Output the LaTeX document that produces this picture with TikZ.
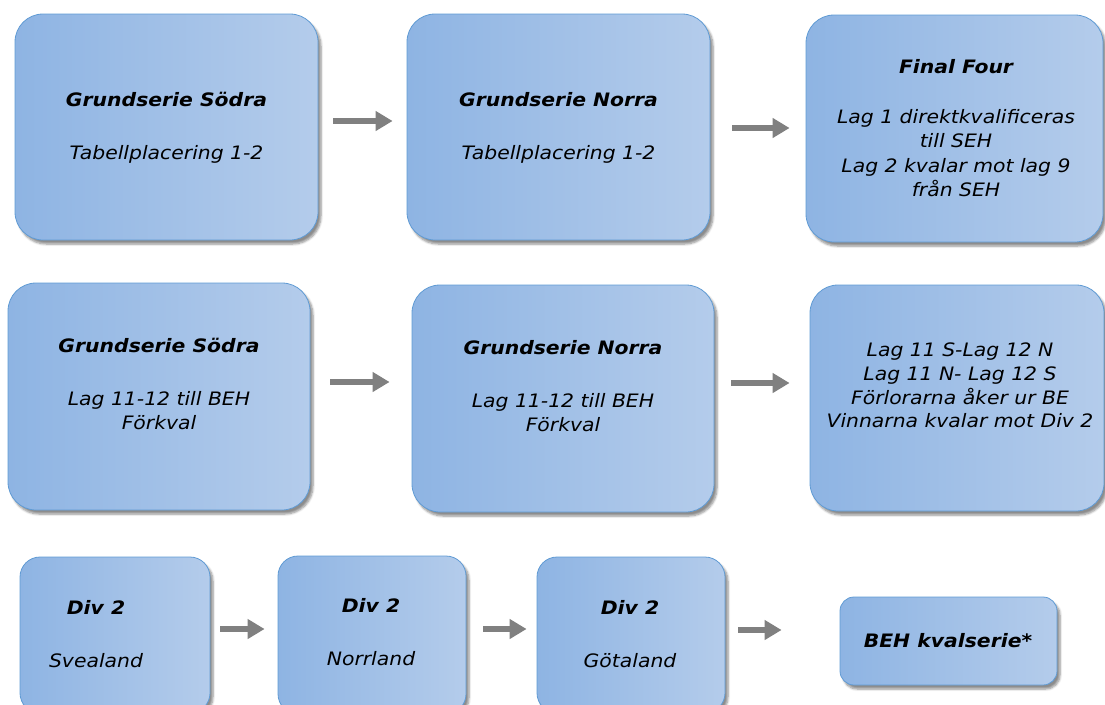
\documentclass[tikz,border=0pt]{standalone}
\usepackage{fontspec}
\setmainfont[FakeStretch=1.1]{DejaVu Sans}
\usetikzlibrary{arrows.meta,calc,shadows.blur}
\definecolor{boxL}{RGB}{142,180,227}
\definecolor{boxR}{RGB}{180,204,235}
\definecolor{boxB}{RGB}{96,155,212}
\definecolor{arrG}{RGB}{128,128,128}
\tikzset{
  box/.style={draw=boxB, line width=0.8pt, left color=boxL, right color=boxR,
    rounded corners=28pt, inner sep=0pt,
    blur shadow={shadow xshift=3pt, shadow yshift=-4pt, shadow blur steps=6, shadow opacity=45}},
  txt/.style={align=center, font=\fontsize{18.5}{24.5}\selectfont\itshape, inner sep=0pt},
  arr/.style={draw=arrG, line width=6pt, -{Triangle[length=17pt,width=19pt]}},
}
\newcommand{\ttl}[1]{{\bfseries #1}}
\begin{document}
\begin{tikzpicture}[x=1pt,y=1pt]
\useasboundingbox (0,0) rectangle (1105,-704);
\clip (0,0) rectangle (1105,-704);
% row 1
\node[box, minimum width=303pt, minimum height=226pt] (a1) at (166.5,-127) {};
\node[box, minimum width=303pt, minimum height=226pt] (a2) at (558.5,-127) {};
\node[box, minimum width=297pt, minimum height=227pt] (a3) at (954.5,-128.5) {};
% row 2
\node[box, minimum width=302pt, minimum height=227pt] (b1) at (159,-396.5) {};
\node[box, minimum width=302pt, minimum height=227pt] (b2) at (563,-398.5) {};
\node[box, minimum width=294pt, minimum height=226pt] (b3) at (957,-398) {};
% row 3
\node[box, rounded corners=20pt, minimum width=190pt, minimum height=156pt] (c1) at (115,-635) {};
\node[box, rounded corners=20pt, minimum width=188pt, minimum height=158pt] (c2) at (372,-635) {};
\node[box, rounded corners=20pt, minimum width=188pt, minimum height=156pt] (c3) at (631,-635) {};
\node[box, rounded corners=14pt, minimum width=217pt, minimum height=88pt] (c4) at (948.5,-641) {};
% texts
\node[txt] (a1t) at (166.5,-128) {\ttl{Grundserie Södra}\\[28pt]Tabellplacering 1-2};
\node[txt] (a2t) at (558.5,-128) {\ttl{Grundserie Norra}\\[28pt]Tabellplacering 1-2};
\node[txt] (a3t) at (956,-128) {\ttl{Final Four}\\[25.5pt]Lag 1 direktkvalificeras\\till SEH\\Lag 2 kvalar mot lag 9\\från SEH};
\node[txt] (b1t) at (159,-384) {\ttl{Grundserie Södra}\\[28pt]Lag 11-12 till BEH\\Förkval};
\node[txt] (b2t) at (563,-386.5) {\ttl{Grundserie Norra}\\[28pt]Lag 11-12 till BEH\\Förkval};
\node[txt, font=\fontsize{18.5}{23.7}\selectfont\itshape] (b3t) at (960,-385.5) {Lag 11 S-Lag 12 N\\Lag 11 N- Lag 12 S\\Förlorarna åker ur BE\\Vinnarna kvalar mot Div 2};
\node[txt] (c1t) at (96,-634) {\ttl{Div 2}\\[28pt]Svealand};
\node[txt] (c2t) at (371,-632) {\ttl{Div 2}\\[28pt]Norrland};
\node[txt] (c3t) at (630,-634) {\ttl{Div 2}\\[28pt]Götaland};
\node[txt] (c4t) at (948,-641) {\ttl{BEH kvalserie*}};
% arrows
\draw[arr] ($(a1.east)+(15,6)$) -- ($(a2.west)+(-14,6)$);
\draw[arr] ($(a2.east)+(22,-1)$) -- ($(a3.west)+(-16,0.5)$);
\draw[arr] ($(b1.east)+(20,14.5)$) -- ($(b2.west)+(-22,16.5)$);
\draw[arr] ($(b2.east)+(17,15.5)$) -- ($(b3.west)+(-20,15)$);
\draw[arr] ($(c1.east)+(10,6)$) -- ($(c2.west)+(-13,6)$);
\draw[arr] ($(c2.east)+(17,6)$) -- ($(c3.west)+(-10,6)$);
\draw[arr] ($(c3.east)+(13,5)$) -- ($(c4.west)+(-58,11)$);
\end{tikzpicture}
\end{document}
